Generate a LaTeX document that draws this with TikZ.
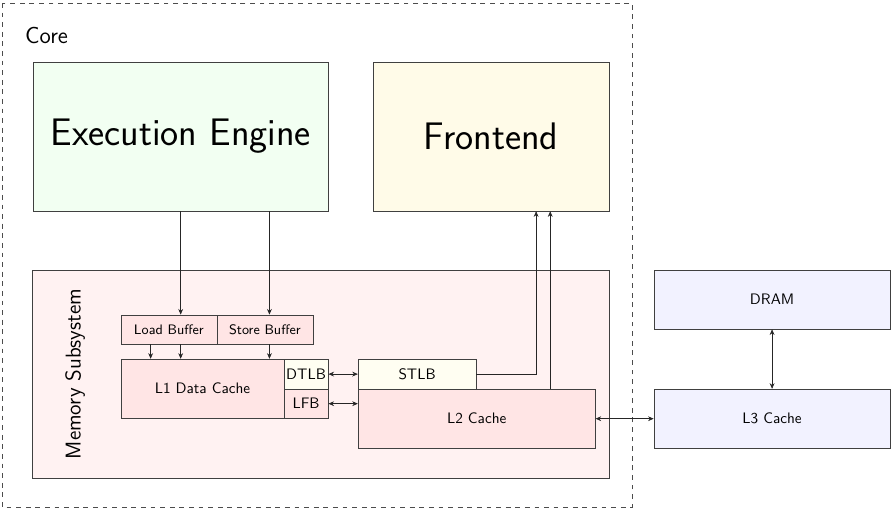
\documentclass[tikz,border=0pt]{standalone}
\usepackage{xcolor}
\usepackage{tikz}
\usetikzlibrary{positioning,arrows.meta}

\definecolor{frontfill}{RGB}{255,251,232}

\begin{document}
\begin{tikzpicture}[font=\sffamily\fontsize{9.5}{11}\selectfont, >={Stealth[length=3.5pt,width=3pt]},
    unit/.style={draw=black!75, inner sep=0pt},
    link/.style={draw=black!85, ->},
    biglink/.style={draw=black!85, <->}]
\useasboundingbox (0,0) rectangle (19.60,-11.19);

% core boundary
\draw[dashed, black!70] (0.044,-0.066) rectangle (13.89,-11.14);
\node[anchor=west, font=\sffamily\Large] (core) at (0.43,-0.77) {Core};

\node[unit, fill=green!5, minimum width=6.48cm, minimum height=3.27cm] (exec) at (3.97,-3.00) {\fontsize{24}{28}\selectfont Execution Engine};
\node[unit, fill=frontfill, minimum width=5.19cm, minimum height=3.27cm] (frontend) at (10.79,-3.00) {\fontsize{24}{28}\selectfont Frontend};

% memory subsystem
\node[unit, fill=red!5, minimum width=12.66cm, minimum height=4.57cm] (mem) at (7.05,-8.22) {};
\node[rotate=90, font=\sffamily\fontsize{13.4}{16}\selectfont] (memlabel) at (1.65,-8.22) {Memory Subsystem};

\node[unit, fill=red!10, minimum width=2.11cm, minimum height=0.64cm] (load) at (3.71,-7.24) {\fontsize{8.6}{10}\selectfont Load Buffer};
\node[unit, fill=red!10, minimum width=2.11cm, minimum height=0.64cm] (store) at (5.82,-7.24) {\fontsize{8.6}{10}\selectfont Store Buffer};
\node[unit, fill=red!10, minimum width=3.58cm, minimum height=1.30cm] (l1) at (4.45,-8.54) {L1 Data Cache};
\node[unit, fill=yellow!5, minimum width=0.97cm, minimum height=0.65cm] (dtlb) at (6.725,-8.22) {DTLB};
\node[unit, fill=red!10, minimum width=0.97cm, minimum height=0.65cm] (lfb) at (6.725,-8.87) {LFB};
\node[unit, fill=yellow!5, minimum width=2.59cm, minimum height=0.65cm] (stlb) at (9.165,-8.22) {STLB};
\node[unit, fill=red!10, minimum width=5.21cm, minimum height=1.30cm] (l2) at (10.475,-9.20) {L2 Cache};

% off-core memory
\node[unit, fill=blue!5, minimum width=5.19cm, minimum height=1.30cm] (dram) at (16.965,-6.58) {DRAM};
\node[unit, fill=blue!5, minimum width=5.19cm, minimum height=1.30cm] (l3) at (16.965,-9.20) {L3 Cache};

% connections
\draw[link] (exec.south) -- (exec.south |- load.north);
\draw[link] ([xshift=1.95cm]exec.south) -- ([xshift=1.95cm]exec.south |- store.north);
\draw[link] (load.south -| exec.south) -- (l1.north -| exec.south);
\draw[link] ([xshift=-0.66cm]load.south -| exec.south) -- ([xshift=-0.66cm]l1.north -| exec.south);
\draw[link] ([xshift=1.95cm]store.south -| exec.south) -- ([xshift=1.95cm]l1.north -| exec.south);

\draw[biglink] (dtlb.east) -- (stlb.west);
\draw[biglink] (lfb.east) -- (lfb.east -| l2.west);
\draw[link] (stlb.east) -| ([xshift=0.99cm]frontend.south);
\draw[link] ([xshift=1.30cm]frontend.south |- l2.north) -- ([xshift=1.30cm]frontend.south);

\draw[biglink] (l2.east) -- (l3.west);
\draw[biglink] (dram.south) -- (l3.north);

\end{tikzpicture}
\end{document}
